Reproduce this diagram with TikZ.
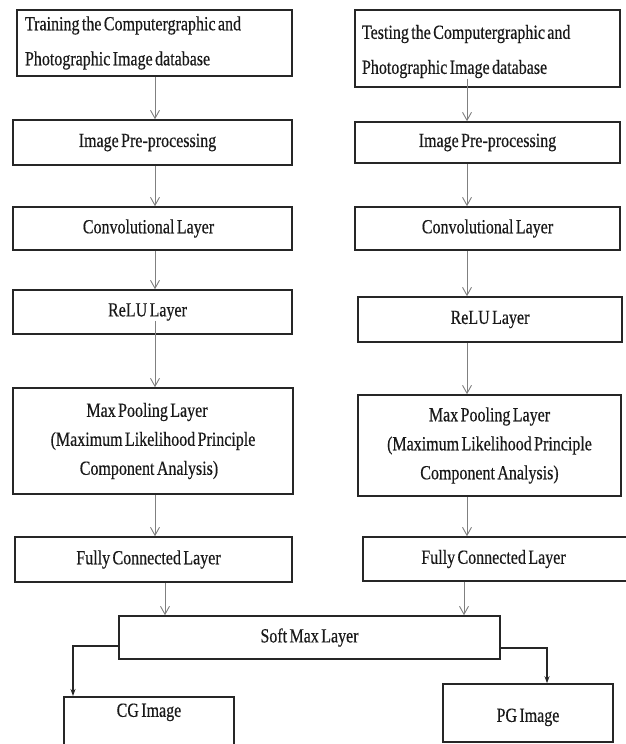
\documentclass[tikz,border=0pt]{standalone}
\usepackage{fontspec}
\setmainfont{Liberation Serif}[FakeStretch=0.8, WordSpace=0.6, FakeBold=0.4]
\usetikzlibrary{arrows.meta}
\begin{document}
\begin{tikzpicture}[x=1pt,y=-1pt,
  box/.style={draw=black!85, line width=1.6pt, inner sep=0pt, align=center,
    font=\fontsize{20}{29}\selectfont, text=black!90},
  topbox/.style={box, align=left, font=\fontsize{20}{35}\selectfont},
  flow/.style={draw=black!50, line width=0.9pt, -{Straight Barb[length=8pt,width=9pt]}},
  outarrow/.style={draw=black!85, line width=1.2pt, -{Stealth[length=7pt,width=5pt]}}]
\useasboundingbox (0,0) rectangle (625,744);
\fill[white] (0,0) rectangle (625,744);
% left column
\node[topbox, minimum width=275, minimum height=66, text width=259] (train) at (154.5,43)
  {\spaceskip=0pt\xspaceskip=0pt\relax Training the Computergraphic and\\Photographic Image database};
\node[box, minimum width=279, minimum height=45] (pre1) at (152.5,142.5) {Image Pre-processing\hspace*{10pt}};
\node[box, minimum width=279, minimum height=43] (conv1) at (152.5,228.5) {Convolutional Layer\hspace*{8pt}};
\node[box, minimum width=279, minimum height=44] (relu1) at (152.5,312) {ReLU Layer\hspace*{10pt}};
\node[box, minimum width=280, minimum height=106] (max1) at (153,441)
  {Max Pooling Layer\hspace*{12pt}\\(Maximum Likelihood Principle\hspace*{8pt}\\Component Analysis)\hspace*{8pt}};
\node[box, minimum width=277, minimum height=45] (fc1) at (153.5,559.5) {Fully Connected Layer\hspace*{10pt}};
% right column
\node[topbox, minimum width=265, minimum height=77, text width=251] (test) at (487.5,48.5)
  {\spaceskip=0pt\xspaceskip=0pt\relax\rule{0pt}{20pt}Testing the Computergraphic and\\Photographic Image database};
\node[box, minimum width=265, minimum height=41] (pre2) at (487.5,142.5) {Image Pre-processing};
\node[box, minimum width=265, minimum height=43] (conv2) at (487.5,228.5) {Convolutional Layer};
\node[box, minimum width=264, minimum height=45] (relu2) at (490,319.5) {ReLU Layer};
\node[box, minimum width=263, minimum height=101] (max2) at (489.5,445.5)
  {Max Pooling Layer\\(Maximum Likelihood Principle\\Component Analysis)};
\node[box, minimum width=277, minimum height=44] (fc2) at (501.5,559) {Fully Connected Layer\hspace*{16pt}};
% bottom
\node[box, minimum width=381, minimum height=43] (soft) at (309.5,637.5) {Soft Max Layer};
\node[box, minimum width=170, anchor=north, text height=20, text depth=50] (cg) at (149,696) {CG Image};
\node[box, minimum width=170, minimum height=58] (pg) at (528,713) {\rule{0pt}{22pt}PG Image};
% helper coordinates
\coordinate (cl) at (155,0);
\coordinate (cr) at (467,0);
\coordinate (fx1) at (165,0);
\coordinate (fx2) at (464,0);
\coordinate (cgx) at (73,0);
\coordinate (pgx) at (547,0);
\coordinate (sl) at (0,646);
\coordinate (sr) at (0,648);
% left arrows
\draw[flow] (train.south -| cl) -- (pre1.north -| cl);
\draw[flow] (pre1.south -| cl) -- (conv1.north -| cl);
\draw[flow] (conv1.south -| cl) -- (relu1.north -| cl);
\draw[flow] (relu1.south -| cl) ++(0,-14) -- (max1.north -| cl);
\draw[flow] (max1.south -| cl) -- (fc1.north -| cl);
% right arrows
\draw[flow] (test.south -| cr) ++(0,-9) -- (pre2.north -| cr);
\draw[flow] (pre2.south -| cr) -- (conv2.north -| cr);
\draw[flow] (conv2.south -| cr) -- (relu2.north -| cr);
\draw[flow] (relu2.south -| cr) -- (max2.north -| cr);
\draw[flow] (max2.south -| cr) -- (fc2.north -| cr);
% to soft max
\draw[flow] (fc1.south -| fx1) -- (soft.north -| fx1);
\draw[flow] (fc2.south -| fx2) -- (soft.north -| fx2);
% outputs
\draw[outarrow] (soft.west |- sl) -| (cg.north -| cgx);
\draw[outarrow] (soft.east |- sr) -| (pg.north -| pgx);
\end{tikzpicture}
\end{document}
